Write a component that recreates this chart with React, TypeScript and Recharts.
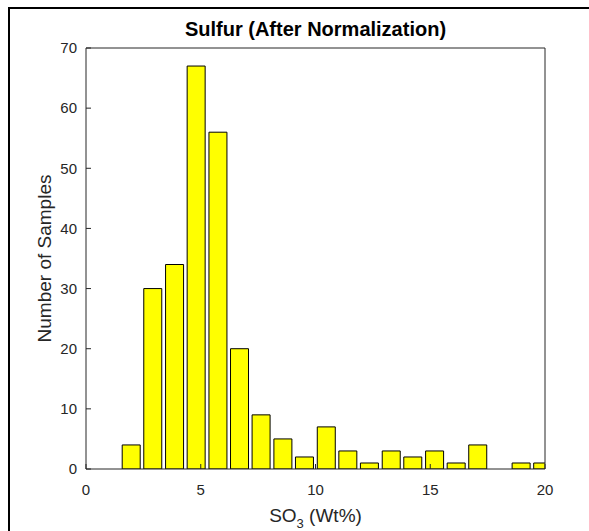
import React from "react";
import { Bar, BarChart, Label, XAxis, YAxis } from "recharts";

// histogram bins (centres) and their counts
const binCenters = [
  1.96, 2.9, 3.85, 4.79, 5.74, 6.68, 7.62, 8.57, 9.51, 10.46, 11.4, 12.34,
  13.29, 14.23, 15.18, 16.12, 17.06, 18.01, 18.95, 19.89,
];
const sampleCounts = [4, 30, 34, 67, 56, 20, 9, 5, 2, 7, 3, 1, 3, 2, 3, 1, 4, 0, 1, 1];
const xTicks = [0, 5, 10, 15, 20];
const yTicks = [0, 10, 20, 30, 40, 50, 60, 70];

const data = binCenters.map((x, i) => ({ x, count: sampleCounts[i] }));

const FONT = "'Liberation Sans', Arial, Helvetica, sans-serif";
const AXIS = "#262626";

const XLabel = (props: any) => {
  const { x, y, width } = props.viewBox;
  return (
    <text
      x={x + width / 2}
      y={y + 53}
      textAnchor="middle"
      fill={AXIS}
      fontSize={19}
      fontFamily={FONT}
    >
      SO
      <tspan dy={6} fontSize={13}>
        3
      </tspan>
      <tspan dy={-6}> (Wt%)</tspan>
    </text>
  );
};

const App = () => {
  return (
    <div style={{ position: "absolute", left: 0, top: 0, width: 589, height: 531 }}>
      <div
        style={{
          position: "absolute",
          left: 8,
          top: 7,
          width: 581,
          height: 524,
          borderTop: "2px solid #000",
          borderLeft: "2px solid #000",
          boxSizing: "border-box",
        }}
      />
      <div
        style={{
          position: "absolute",
          left: 86,
          top: 19,
          width: 459,
          textAlign: "center",
          fontFamily: FONT,
          fontWeight: "bold",
          fontSize: 20,
          lineHeight: "20px",
          color: "#000",
        }}
      >
        Sulfur (After Normalization)
      </div>
      <div style={{ position: "absolute", left: 0, top: 0 }}>
        <BarChart
          width={589}
          height={531}
          data={data}
          margin={{ top: 47, right: 43, bottom: 0, left: 0 }}
          style={{ fontFamily: FONT }}
        >
          <XAxis
            dataKey="x"
            type="number"
            domain={[0, 20]}
            ticks={xTicks}
            allowDataOverflow
            height={62}
            stroke={AXIS}
            tickSize={-5}
            tickMargin={20}
            tick={{ fill: AXIS, fontSize: 15 }}
          >
            <Label content={XLabel} />
          </XAxis>
          <XAxis
            xAxisId="top"
            orientation="top"
            type="number"
            domain={[0, 20]}
            ticks={xTicks}
            allowDataOverflow
            height={1}
            stroke={AXIS}
            tickSize={-5}
            tick={false}
          />
          <YAxis
            type="number"
            domain={[0, 70]}
            ticks={yTicks}
            allowDataOverflow
            width={86}
            stroke={AXIS}
            tickSize={-5}
            tickMargin={14}
            tick={{ fill: AXIS, fontSize: 15 }}
          >
            <Label
              value="Number of Samples"
              angle={-90}
              position="center"
              dx={1}
              style={{ fill: AXIS, fontSize: 19, fontFamily: FONT }}
            />
          </YAxis>
          <YAxis
            yAxisId="right"
            orientation="right"
            type="number"
            domain={[0, 70]}
            ticks={yTicks}
            allowDataOverflow
            width={1}
            stroke={AXIS}
            tickSize={-5}
            tick={false}
          />
          <Bar
            dataKey="count"
            barSize={18}
            fill="#ffff00"
            stroke="#000"
            strokeWidth={1}
            isAnimationActive={false}
          />
        </BarChart>
      </div>
    </div>
  );
};

export default App;
